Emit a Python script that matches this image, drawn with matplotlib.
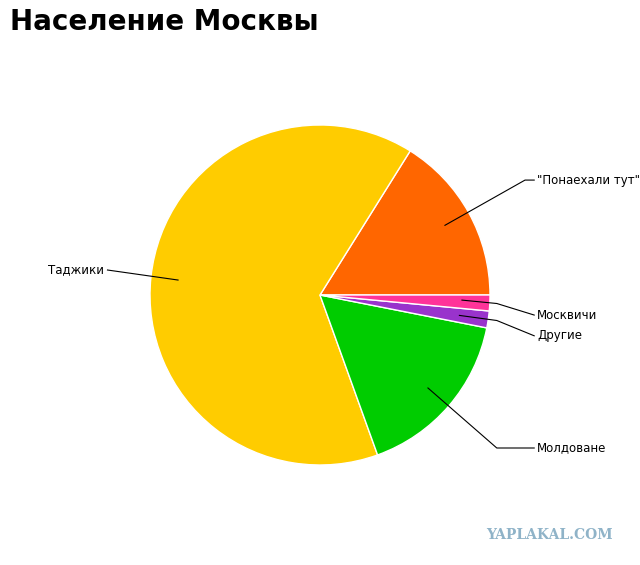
import matplotlib
matplotlib.use("Agg")
import matplotlib.pyplot as plt

labels = ['"Понаехали тут"', 'Таджики', 'Молдоване', 'Другие', 'Москвичи']
values = [16.1, 64.4, 16.4, 1.6, 1.5]
colors = ['#FF6600', '#FFCC00', '#00CC00', '#9933CC', '#FF3399']

fig = plt.figure(figsize=(6.4, 5.65), dpi=100)
ax = fig.add_axes([150/640, 100/565, 340/640, 340/565])
ax.pie(values, colors=colors, startangle=0, counterclock=True,
       wedgeprops=dict(edgecolor='white', linewidth=1), radius=1)
ax.set_xlim(-1, 1); ax.set_ylim(-1, 1)
ax.set_aspect('equal')

# leader lines: (inner point, elbow, end), text position, alignment
leaders = [
    ([(0.735, 0.41), (1.206, 0.676), (1.26, 0.676)], (1.276, 0.676), 'left'),
    ([(-0.835, 0.088), (-1.25, 0.147)], (-1.27, 0.147), 'right'),
    ([(0.635, -0.547), (1.04, -0.9), (1.26, -0.9)], (1.276, -0.9), 'left'),
    ([(0.82, -0.12), (1.04, -0.15), (1.26, -0.24)], (1.276, -0.24), 'left'),
    ([(0.835, -0.03), (1.04, -0.05), (1.26, -0.118)], (1.276, -0.118), 'left'),
]
order = [0, 1, 2, 3, 4]
for i in order:
    pts, tp, ha = leaders[i]
    xs = [p[0] for p in pts]; ys = [p[1] for p in pts]
    ax.plot(xs, ys, color='black', lw=0.8, clip_on=False)
    ax.text(tp[0], tp[1], labels[i], ha=ha, va='center', fontsize=8.5, clip_on=False)

fig.text(10/640, 1 - 22/565, 'Население Москвы', fontsize=20, fontweight='bold',
         va='center', ha='left')
fig.text(613/640, 1 - 535/565, 'YAPLAKAL.COM', fontsize=10, fontweight='bold',
         color='#8fb3c8', ha='right', va='center', family='DejaVu Serif')
fig.savefig('out.png', dpi=100)
